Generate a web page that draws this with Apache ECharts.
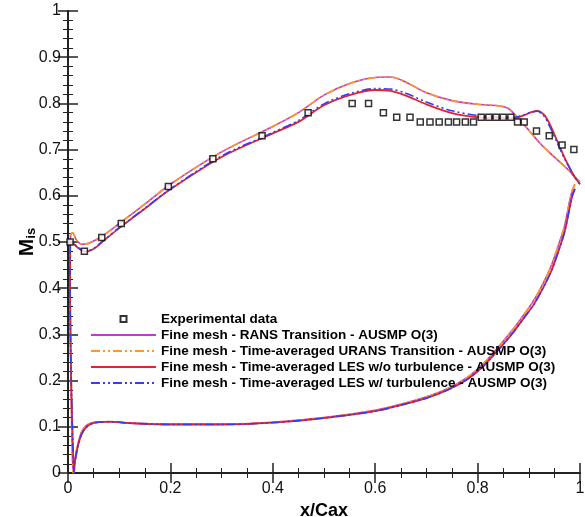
<!DOCTYPE html>
<html>
<head>
<meta charset="utf-8">
<script src="https://cdn.jsdelivr.net/npm/echarts@6/dist/echarts.min.js"></script>
<style>
  html, body { margin: 0; padding: 0; background: #fff; }
  #chart { width: 585px; height: 517px; }
</style>
</head>
<body>
<div id="chart"></div>
<script>
// experimental points
var expX = [0.004, 0.032, 0.066, 0.104, 0.196, 0.283, 0.379, 0.469, 0.555, 0.587, 0.616, 0.642, 0.668, 0.688, 0.707, 0.725, 0.743, 0.759, 0.776, 0.792, 0.807, 0.822, 0.836, 0.85, 0.865, 0.878, 0.891, 0.915, 0.94, 0.965, 0.988];
var expY = [0.50, 0.48, 0.51, 0.54, 0.62, 0.68, 0.73, 0.78, 0.80, 0.80, 0.78, 0.77, 0.77, 0.76, 0.76, 0.76, 0.76, 0.76, 0.76, 0.76, 0.77, 0.77, 0.77, 0.77, 0.77, 0.76, 0.76, 0.74, 0.73, 0.71, 0.70];

// pressure side, trailing edge -> leading edge
var lowX = [0.99, 0.985, 0.98, 0.97, 0.96, 0.945, 0.93, 0.91, 0.89, 0.87, 0.84, 0.81, 0.78, 0.74, 0.7, 0.65, 0.6, 0.5, 0.4, 0.3, 0.2, 0.12, 0.08, 0.06, 0.045, 0.035, 0.027, 0.021, 0.016, 0.013];
var lowA = [0.625, 0.612, 0.59, 0.535, 0.50, 0.452, 0.415, 0.374, 0.342, 0.312, 0.272, 0.235, 0.207, 0.182, 0.165, 0.149, 0.136, 0.12, 0.11, 0.106, 0.106, 0.108, 0.111, 0.111, 0.108, 0.102, 0.09, 0.07, 0.045, 0.02];
var lowB = [0.615, 0.60, 0.575, 0.522, 0.487, 0.44, 0.405, 0.365, 0.335, 0.305, 0.266, 0.23, 0.203, 0.179, 0.162, 0.147, 0.134, 0.119, 0.109, 0.105, 0.105, 0.108, 0.111, 0.11, 0.106, 0.098, 0.085, 0.065, 0.04, 0.02];

// suction side, stagnation point -> trailing edge
var upXA = [0.01, 0.007, 0.005, 0.004, 0.005, 0.009, 0.016, 0.027, 0.04, 0.055, 0.07, 0.1, 0.15, 0.2, 0.3, 0.4, 0.45, 0.5, 0.55, 0.6, 0.63, 0.66, 0.7, 0.75, 0.8, 0.84, 0.86, 0.88, 0.9, 0.92, 0.94, 0.96, 0.98, 0.99, 1.0];
var ransUp = [0, 0.12, 0.28, 0.45, 0.515, 0.52, 0.505, 0.495, 0.497, 0.505, 0.515, 0.54, 0.582, 0.625, 0.695, 0.75, 0.78, 0.818, 0.843, 0.856, 0.857, 0.846, 0.823, 0.806, 0.798, 0.795, 0.789, 0.767, 0.742, 0.716, 0.694, 0.674, 0.653, 0.64, 0.63];
var upXB = [0.012, 0.008, 0.005, 0.004, 0.005, 0.01, 0.02, 0.033, 0.05, 0.07, 0.1, 0.15, 0.2, 0.3, 0.4, 0.45, 0.5, 0.55, 0.6, 0.63, 0.66, 0.7, 0.75, 0.8, 0.84, 0.87, 0.89, 0.905, 0.917, 0.93, 0.94, 0.955, 0.97, 0.98, 0.99, 1.0];
var lesUp = [0, 0.12, 0.28, 0.43, 0.50, 0.497, 0.487, 0.479, 0.485, 0.503, 0.53, 0.572, 0.614, 0.684, 0.735, 0.76, 0.796, 0.818, 0.829, 0.827, 0.817, 0.798, 0.779, 0.77, 0.768, 0.768, 0.774, 0.781, 0.784, 0.775, 0.757, 0.72, 0.682, 0.66, 0.64, 0.625];
var lesTurbUp = [0, 0.12, 0.28, 0.43, 0.50, 0.498, 0.488, 0.48, 0.486, 0.504, 0.531, 0.573, 0.615, 0.686, 0.737, 0.763, 0.799, 0.821, 0.832, 0.831, 0.822, 0.803, 0.784, 0.774, 0.771, 0.77, 0.775, 0.781, 0.783, 0.772, 0.752, 0.716, 0.68, 0.66, 0.64, 0.625];

var names = [
  'Experimental data',
  'Fine mesh - RANS Transition - AUSMP O(3)',
  'Fine mesh - Time-averaged URANS Transition - AUSMP O(3)',
  'Fine mesh - Time-averaged LES w/o turbulence - AUSMP O(3)',
  'Fine mesh - Time-averaged LES w/ turbulence - AUSMP O(3)'
];

function loop(lx, ly, ux, uy) {
  var pts = [];
  for (var i = 0; i < lx.length; i++) pts.push([lx[i], ly[i]]);
  for (var j = 0; j < ux.length; j++) pts.push([ux[j], uy[j]]);
  return pts;
}

var font = 'Liberation Sans, Arial, Helvetica, sans-serif';
var axisCol = '#222';

function axisBase(showLabel) {
  return {
    type: 'value', min: 0, max: 1,
    axisLine: { show: true, lineStyle: { color: axisCol, width: 2 } },
    axisTick: { show: true, inside: true, length: 10, lineStyle: { color: axisCol, width: 1.5 } },
    minorTick: { show: true, length: 5, lineStyle: { color: axisCol, width: 1 } },
    splitLine: { show: false },
    axisLabel: { show: showLabel, color: '#111', fontSize: 16, fontFamily: font },
  };
}

var xBottom = axisBase(true);
xBottom.position = 'bottom';
xBottom.interval = 0.2;
xBottom.minorTick.splitNumber = 4;
xBottom.axisLabel.margin = 8;
xBottom.name = 'x/Cax';
xBottom.nameLocation = 'middle';
xBottom.nameGap = 24;
xBottom.nameTextStyle = { fontSize: 18, fontWeight: 'bold', color: '#000', fontFamily: font };

var xTop = axisBase(false);
xTop.position = 'top';
xTop.interval = 0.2;
xTop.minorTick.splitNumber = 4;

var yLeft = axisBase(true);
yLeft.position = 'left';
yLeft.interval = 0.1;
yLeft.minorTick.splitNumber = 5;
yLeft.axisLabel.margin = 7;
yLeft.name = '{m|M}{s|is}';
yLeft.nameLocation = 'middle';
yLeft.nameMoveOverlap = false;
yLeft.nameGap = 30;
yLeft.nameTextStyle = {
  color: '#000',
  rich: {
    m: { fontSize: 21, fontWeight: 'bold', fontFamily: font, color: '#000', lineHeight: 22 },
    s: { fontSize: 13, fontWeight: 'bold', fontFamily: font, color: '#000', verticalAlign: 'bottom' }
  }
};

var yRight = axisBase(false);
yRight.position = 'right';
yRight.interval = 0.1;
yRight.minorTick.splitNumber = 5;

var noDot = { opacity: 0 };

var chart = echarts.init(document.getElementById('chart'));
var option = {
  backgroundColor: '#fff',
  animation: false,
  grid: { left: 68, right: 5, top: 11, bottom: 44, outerBoundsMode: 'none', containLabel: false },
  xAxis: [xBottom, xTop],
  yAxis: [yLeft, yRight],
  legend: {
    left: 90, top: 312, padding: 0,
    orient: 'vertical',
    itemWidth: 65, itemHeight: 6, itemGap: 2,
    textStyle: { fontSize: 13.5, fontWeight: 'bold', color: '#000', fontFamily: font, lineHeight: 13 },
    data: [
      { name: names[0], icon: 'path://M0,0H10V10H0Z' },
      { name: names[1], itemStyle: noDot },
      { name: names[2], itemStyle: noDot },
      { name: names[3], itemStyle: noDot },
      { name: names[4], itemStyle: noDot }
    ]
  },
  series: [
    {
      name: names[1], type: 'line', smooth: 0.3, showSymbol: false, symbol: 'none',
      lineStyle: { color: '#c03cc8', width: 1.6 }, itemStyle: { color: '#c03cc8' },
      data: loop(lowX, lowA, upXA, ransUp)
    },
    {
      name: names[2], type: 'line', smooth: 0.3, showSymbol: false, symbol: 'none',
      lineStyle: { color: '#ff9626', width: 1.6, type: [9, 3, 2, 3, 2, 3] }, itemStyle: { color: '#ff9626' },
      data: loop(lowX, lowA, upXA, ransUp)
    },
    {
      name: names[3], type: 'line', smooth: 0.3, showSymbol: false, symbol: 'none',
      lineStyle: { color: '#e4222a', width: 1.8 }, itemStyle: { color: '#e4222a' },
      data: loop(lowX, lowB, upXB, lesUp)
    },
    {
      name: names[4], type: 'line', smooth: 0.3, showSymbol: false, symbol: 'none',
      lineStyle: { color: '#3a3af0', width: 1.6, type: [9, 3, 2, 3, 2, 3] }, itemStyle: { color: '#3a3af0' },
      data: loop(lowX, lowB, upXB, lesTurbUp)
    },
    {
      name: names[0], type: 'scatter', symbol: 'rect', symbolSize: 6,
      itemStyle: { color: '#fff', borderColor: '#000', borderWidth: 1.5 },
      data: expX.map(function (x, i) { return [x, expY[i]]; }),
      z: 5
    }
  ]
};
chart.setOption(option);
</script>
</body>
</html>
